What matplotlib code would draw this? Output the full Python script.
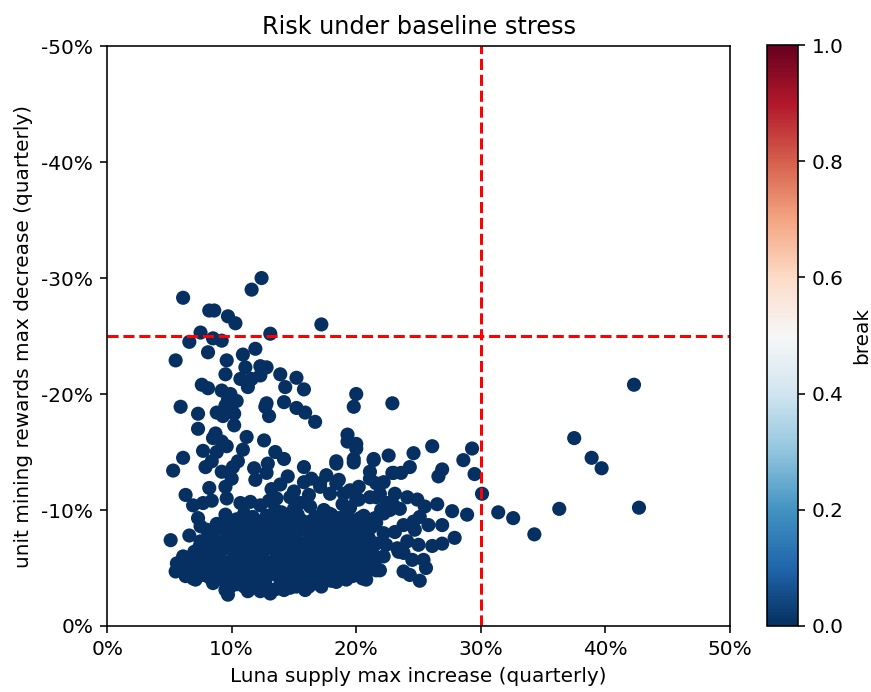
import numpy as np
import matplotlib
matplotlib.use("Agg")
import matplotlib.pyplot as plt
from matplotlib.ticker import FuncFormatter

# (supply increase %, rewards decrease %) per simulated run, grouped by area
upper_runs = [
    (12.4, 30.0), (11.6, 29.0), (6.1, 28.3), (8.2, 27.2), (8.6, 27.2), (9.7, 26.7),
    (10.3, 26.1), (7.5, 25.3), (13.1, 25.2), (17.2, 26.0), (8.5, 24.8), (9.2, 24.6),
    (6.6, 24.5), (11.9, 23.9), (8.1, 23.6), (10.9, 23.4), (5.5, 22.9), (9.6, 22.9),
    (11.1, 22.3), (12.3, 22.4), (12.8, 22.3), (12.3, 21.6), (9.5, 21.7), (13.9, 21.7),
    (15.2, 21.4), (10.7, 21.3), (11.6, 21.3), (11.3, 20.6), (7.6, 20.8), (8.1, 20.5),
    (14.3, 20.6), (15.8, 20.4), (9.2, 20.3), (9.9, 20.0), (9.7, 19.5), (10.4, 19.4),
    (14.2, 19.3), (15.2, 18.8), (15.9, 18.4), (5.9, 18.9), (9.5, 19.0), (12.8, 19.2),
    (12.7, 18.9), (7.3, 18.3), (8.8, 18.4), (9.3, 18.1), (10.2, 18.3), (13.0, 18.1),
    (20.0, 20.0), (19.8, 18.9), (22.9, 19.2), (16.7, 17.6), (19.3, 16.5), (19.3, 15.9),
    (20.0, 15.7), (20.0, 15.3), (26.1, 15.5), (24.6, 14.9), (22.6, 14.7), (21.4, 14.4),
    (19.8, 14.4), (18.4, 14.2), (10.2, 17.3), (7.3, 17.0), (8.7, 16.6), (8.5, 16.2),
    (9.2, 15.9), (9.6, 15.5), (7.7, 15.1), (8.8, 15.0), (6.1, 14.5), (8.4, 14.2),
    (10.5, 14.2), (10.9, 15.2), (11.2, 16.3), (9.6, 19.1), (12.6, 16.0), (13.5, 15.0),
    (12.9, 14.0), (14.2, 14.4), (11.8, 13.6),
]

middle_runs = [
    (5.3, 13.4), (7.9, 13.7), (9.2, 13.3), (10.1, 13.7), (10.0, 12.7), (8.2, 11.9),
    (9.5, 12.0), (6.3, 11.3), (6.9, 10.4), (7.7, 10.6), (8.4, 10.8), (9.6, 11.0),
    (10.7, 10.6), (11.5, 10.7), (12.3, 10.4), (13.9, 12.2), (14.7, 11.1), (13.6, 11.0),
    (15.8, 12.4), (17.1, 12.3), (18.4, 12.3), (17.9, 11.4), (19.5, 11.7), (20.0, 10.9),
    (21.1, 11.1), (21.9, 11.4), (22.5, 10.6), (17.4, 10.0), (17.8, 9.7), (16.3, 10.3),
    (18.4, 14.0), (19.8, 14.1), (21.4, 14.3), (24.3, 13.7), (26.9, 13.5), (26.6, 12.9),
    (22.9, 13.2), (21.1, 13.3), (21.1, 12.7), (17.6, 13.0), (18.6, 12.6), (15.8, 13.7),
    (22.2, 12.4), (23.1, 11.4), (24.1, 11.1), (24.9, 10.9), (25.5, 10.3), (26.5, 10.5),
    (23.0, 13.2), (23.6, 13.2), (23.0, 10.4), (23.5, 10.1), (22.2, 9.7), (16.4, 12.7),
    (17.1, 12.0), (19.0, 11.4), (20.2, 12.0), (21.6, 12.3), (20.2, 10.9), (21.6, 11.1),
    (22.7, 10.0), (22.0, 10.0), (11.9, 12.6), (12.8, 13.2), (13.2, 11.8), (14.5, 12.9),
    (15.0, 11.6), (15.5, 10.6), (18.9, 10.5), (13.0, 10.8), (16.2, 11.3),
]

right_runs = [
    (42.3, 20.8), (42.7, 10.2), (37.5, 16.2), (38.9, 14.5), (39.7, 13.6), (36.3, 10.1),
    (34.3, 7.9), (32.6, 9.3), (31.4, 9.8), (30.1, 11.4), (29.3, 15.3), (28.6, 14.3),
    (29.5, 13.1), (27.7, 9.9), (28.9, 9.6), (27.9, 7.6), (25.1, 9.4), (24.6, 9.0),
    (24.7, 8.3), (25.8, 8.7), (26.9, 8.7), (23.8, 8.7), (23.1, 8.1), (24.1, 7.3),
    (25.0, 7.0), (26.1, 6.9), (26.9, 7.1), (23.3, 6.7), (23.8, 6.3), (24.5, 5.7),
    (25.4, 5.7), (25.6, 5.0), (23.8, 4.7), (24.3, 4.4), (25.1, 3.9), (21.9, 4.8),
    (22.2, 6.0), (21.6, 7.1), (21.6, 8.9), (22.2, 8.0), (22.4, 7.0), (21.6, 4.8),
    (20.8, 4.0), (21.2, 5.5), (21.1, 6.4), (23.4, 6.4),
]

core_runs = [
    (7.3, 9.3), (7.5, 8.6), (5.1, 7.4), (6.6, 7.8), (7.5, 7.3), (9.2, 8.4), (10.7, 9.1),
    (5.6, 5.4), (5.5, 4.7), (6.1, 6.0), (6.3, 4.3), (6.9, 4.1), (7.7, 4.4), (8.5, 3.7),
    (9.5, 3.1), (9.7, 2.7), (10.0, 3.5), (11.3, 3.0), (12.3, 3.0), (13.1, 2.8), (6.9, 5.7),
    (19.2, 4.0), (18.4, 3.8), (17.1, 3.7), (16.2, 3.4), (15.2, 3.4), (14.2, 3.1), (13.3, 3.1),
    (9.8, 3.3), (11.0, 3.4), (12.1, 3.5), (13.6, 3.2), (14.7, 3.3), (15.9, 3.1), (17.2, 3.4),
    (7.1, 4.0), (8.2, 4.2), (9.4, 3.9), (10.5, 4.1), (11.6, 3.9), (12.8, 4.2), (13.9, 4.0),
    (15.1, 3.8), (16.2, 4.1), (17.4, 4.2), (18.6, 4.1), (19.7, 4.3), (20.5, 4.1),
    (6.0, 4.9), (7.2, 4.7), (8.3, 5.0), (9.5, 4.8), (10.6, 4.9), (11.7, 4.7), (12.9, 4.9),
    (14.0, 4.7), (15.1, 5.0), (16.3, 4.8), (17.4, 4.9), (18.6, 4.7), (19.7, 4.9), (20.8, 4.8),
    (6.4, 5.6), (7.6, 5.5), (8.7, 5.7), (9.8, 5.5), (10.9, 5.7), (12.1, 5.6), (13.2, 5.5),
    (14.3, 5.7), (15.5, 5.6), (16.6, 5.5), (17.8, 5.7), (18.9, 5.6), (20.0, 5.4), (21.3, 5.7),
    (7.0, 6.4), (8.1, 6.3), (9.2, 6.5), (10.4, 6.4), (11.5, 6.3), (12.6, 6.5), (13.8, 6.3),
    (14.9, 6.5), (16.0, 6.4), (17.2, 6.3), (18.3, 6.5), (19.4, 6.4), (20.6, 6.2),
    (7.8, 7.2), (8.9, 7.1), (10.0, 7.3), (11.1, 7.2), (12.3, 7.1), (13.4, 7.3), (14.5, 7.2),
    (15.7, 7.0), (16.8, 7.3), (17.9, 7.2), (19.0, 7.1), (20.2, 7.3), (21.0, 7.6),
    (8.3, 8.0), (9.6, 7.9), (10.6, 8.1), (11.8, 8.0), (12.9, 7.9), (14.0, 8.1), (15.2, 8.0),
    (16.3, 7.9), (17.4, 8.1), (18.6, 8.0), (19.7, 7.9), (20.8, 8.2),
    (8.8, 8.8), (10.0, 8.9), (11.3, 8.7), (12.5, 8.9), (13.6, 8.8), (14.8, 8.7), (15.9, 8.9),
    (17.1, 8.8), (18.2, 8.7), (19.4, 8.9), (20.5, 8.8),
    (9.5, 9.6), (11.0, 9.7), (12.8, 9.5), (14.0, 9.8), (15.3, 9.6), (16.7, 9.4), (18.0, 9.6),
    (19.2, 9.7), (20.6, 9.5), (21.5, 9.3),
]

# second, staggered pass through the densest part of the cloud
core_fill_runs = [
    (10.4, 3.6), (11.6, 3.7), (12.7, 3.6), (14.0, 3.7), (15.6, 3.8), (16.7, 3.7), (18.0, 3.9),
    (6.6, 4.5), (7.7, 4.4), (8.8, 4.5), (9.9, 4.3), (11.1, 4.5), (12.2, 4.4), (13.4, 4.5),
    (14.5, 4.3), (15.7, 4.4), (16.8, 4.5), (18.0, 4.4), (19.1, 4.5), (20.2, 4.6),
    (6.7, 5.2), (7.8, 5.2), (8.9, 5.3), (10.0, 5.1), (11.2, 5.2), (12.4, 5.3), (13.5, 5.1),
    (14.7, 5.2), (15.8, 5.3), (16.9, 5.2), (18.1, 5.1), (19.2, 5.3), (20.4, 5.1), (21.5, 5.2),
    (6.8, 6.0), (7.9, 6.0), (9.0, 5.9), (10.2, 6.1), (11.3, 6.0), (12.4, 5.9), (13.6, 6.1),
    (14.7, 6.0), (15.9, 5.9), (17.0, 6.1), (18.1, 6.0), (19.3, 5.9), (20.4, 6.0), (21.4, 6.1),
    (7.4, 6.8), (8.6, 6.8), (9.7, 6.9), (10.8, 6.7), (12.0, 6.8), (13.1, 6.9), (14.2, 6.7),
    (15.3, 6.8), (16.5, 6.9), (17.6, 6.7), (18.7, 6.8), (19.9, 6.9), (21.0, 6.8),
    (8.5, 7.6), (9.5, 7.5), (10.6, 7.6), (11.7, 7.7), (12.8, 7.5), (14.0, 7.6), (15.1, 7.7),
    (16.2, 7.5), (17.3, 7.6), (18.5, 7.7), (19.6, 7.5), (20.5, 7.7),
    (9.9, 8.4), (11.0, 8.3), (12.1, 8.5), (13.2, 8.4), (14.4, 8.3), (15.5, 8.5), (16.7, 8.4),
    (17.8, 8.3), (18.9, 8.5), (20.1, 8.4), (21.2, 8.5),
    (10.4, 9.2), (11.9, 9.1), (13.1, 9.3), (14.3, 9.2), (15.6, 9.1), (17.4, 9.2), (18.6, 9.3),
    (19.9, 9.1), (13.5, 10.0), (15.0, 10.1), (19.5, 10.2),
    (8.0, 8.3), (9.4, 9.0), (11.7, 9.4), (12.3, 8.2), (13.9, 9.0), (14.9, 9.4), (16.3, 9.0),
    (17.0, 8.1), (18.3, 9.0), (19.6, 8.2), (20.3, 9.3), (8.2, 6.6), (7.4, 5.9), (6.2, 5.2),
]

supply_increase = []
rewards_decrease = []
for group in (upper_runs, middle_runs, right_runs, core_runs, core_fill_runs):
    for sx, ry in group:
        supply_increase.append(sx / 100)
        rewards_decrease.append(-ry / 100)
supply_increase = np.array(supply_increase)
rewards_decrease = np.array(rewards_decrease)
breaks = np.zeros(len(supply_increase))

supply_limit = 0.30
rewards_limit = -0.25

fig = plt.figure(figsize=(871 / 144, 692 / 144), dpi=144)
ax = fig.add_axes([0.123, 0.0954, 0.715, 0.838])
cax = fig.add_axes([0.8806, 0.0954, 0.0356, 0.8395])

sc = ax.scatter(supply_increase, rewards_decrease, c=breaks, cmap="RdBu_r",
                vmin=0, vmax=1, s=50, linewidths=0)
ax.axvline(supply_limit, color="red", linestyle="--", linewidth=1.5)
ax.axhline(rewards_limit, color="red", linestyle="--", linewidth=1.5)

ax.set_xlim(0, 0.5)
ax.set_ylim(0, -0.5)
ax.set_xticks(np.arange(0, 0.51, 0.1))
ax.set_yticks(np.arange(0, -0.51, -0.1))
pct = FuncFormatter(lambda v, pos: f"{v:.0%}".replace("\u2212", "-"))
ax.xaxis.set_major_formatter(pct)
ax.yaxis.set_major_formatter(pct)

ax.set_title("Risk under baseline stress")
ax.set_xlabel("Luna supply max increase (quarterly)")
ax.set_ylabel("unit mining rewards max decrease (quarterly)")

cb = fig.colorbar(sc, cax=cax)
cb.set_label("break")

fig.savefig("out.png", dpi=144)
